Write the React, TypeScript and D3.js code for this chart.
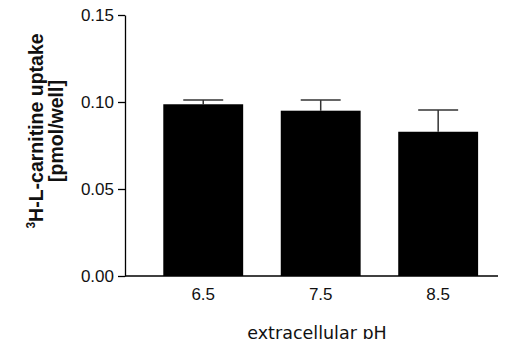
import { useRef, useEffect } from 'react';
import * as d3 from 'd3';

const categories = ['6.5', '7.5', '8.5'];
const means = [0.0987, 0.095, 0.0829];
const sems = [0.0024, 0.0061, 0.0125];
const yTicks = [0, 0.05, 0.1, 0.15];

export default function App() {
  const svgRef = useRef<SVGSVGElement>(null);

  useEffect(() => {
    if (!svgRef.current) return;
    const svg = d3.select(svgRef.current);
    svg.selectAll('*').remove();

    const height = 347;
    const axisLeft = 125;
    const axisRight = 505;
    const margin = { top: 15, bottom: 71 };

    // band scale runs slightly past the visible axis end, like the original
    const x = d3
      .scaleBand()
      .domain(categories)
      .range([125.7, 515.7])
      .paddingInner(0.32)
      .paddingOuter(0.32);
    const y = d3.scaleLinear().domain([0, 0.15]).range([height - margin.bottom, margin.top]);

    const data = categories.map((c, i) => ({ c, m: means[i], e: sems[i] }));

    // Error bars (upper half only, bar covers the rest)
    const err = svg.append('g').attr('stroke', '#333').attr('stroke-width', 1.5);
    err
      .selectAll('line.v')
      .data(data)
      .join('line')
      .attr('class', 'v')
      .attr('x1', (d) => x(d.c)! + x.bandwidth() / 2)
      .attr('x2', (d) => x(d.c)! + x.bandwidth() / 2)
      .attr('y1', (d) => y(d.m))
      .attr('y2', (d) => y(d.m + d.e));
    err
      .selectAll('line.cap')
      .data(data)
      .join('line')
      .attr('class', 'cap')
      .attr('x1', (d) => x(d.c)! + x.bandwidth() / 4)
      .attr('x2', (d) => x(d.c)! + (3 * x.bandwidth()) / 4)
      .attr('y1', (d) => y(d.m + d.e))
      .attr('y2', (d) => y(d.m + d.e));

    // Bars
    svg
      .append('g')
      .selectAll('rect')
      .data(data)
      .join('rect')
      .attr('x', (d) => x(d.c)!)
      .attr('y', (d) => y(d.m))
      .attr('width', x.bandwidth())
      .attr('height', (d) => y(0) - y(d.m))
      .attr('fill', '#000');

    // Y axis
    const yAxis = svg
      .append('g')
      .attr('transform', `translate(${axisLeft},0)`)
      .call(
        d3
          .axisLeft(y)
          .tickValues(yTicks)
          .tickFormat(d3.format('.2f'))
          .tickSize(7)
          .tickPadding(4)
          .tickSizeOuter(0)
      );
    yAxis.selectAll('path, line').attr('stroke', '#000').attr('stroke-width', 1.3);
    yAxis
      .selectAll('text')
      .attr('font-family', 'Liberation Sans, Arial, sans-serif')
      .attr('font-size', 17)
      .attr('fill', '#111');

    // X axis
    const xAxis = svg
      .append('g')
      .attr('transform', `translate(0,${y(0)})`)
      .call(d3.axisBottom(x).tickSize(0).tickPadding(12).tickSizeOuter(0));
    xAxis.select('.domain').remove();
    xAxis
      .append('line')
      .attr('x1', axisLeft)
      .attr('x2', axisRight)
      .attr('stroke', '#000')
      .attr('stroke-width', 1.3);
    xAxis
      .selectAll('text')
      .attr('font-family', 'Liberation Sans, Arial, sans-serif')
      .attr('font-size', 17)
      .attr('fill', '#111');

    // X title
    svg
      .append('text')
      .attr('x', 317)
      .attr('y', 339)
      .attr('text-anchor', 'middle')
      .attr('font-family', 'DejaVu Sans, Verdana, sans-serif')
      .attr('font-size', 17.5)
      .attr('fill', '#111')
      .text('extracellular pH');

    // Y title (two lines, rotated)
    const yt = svg
      .append('text')
      .attr('transform', 'translate(0,131) rotate(-90)')
      .attr('text-anchor', 'middle')
      .attr('font-family', 'Liberation Sans, Arial, sans-serif')
      .attr('font-weight', 'bold')
      .attr('font-size', 19.5)
      .attr('fill', '#111');
    const l1 = yt.append('tspan').attr('x', 0).attr('y', 43);
    l1.append('tspan').attr('font-size', 12).attr('dy', -8).text('3');
    l1.append('tspan').attr('dy', 8).text('H-L-carnitine uptake');
    yt.append('tspan').attr('x', 0).attr('y', 63).text('[pmol/well]');
  }, []);

  return (
    <div style={{ margin: -8 }}>
      <svg ref={svgRef} width={506} height={347} style={{ display: 'block' }} />
    </div>
  );
}
